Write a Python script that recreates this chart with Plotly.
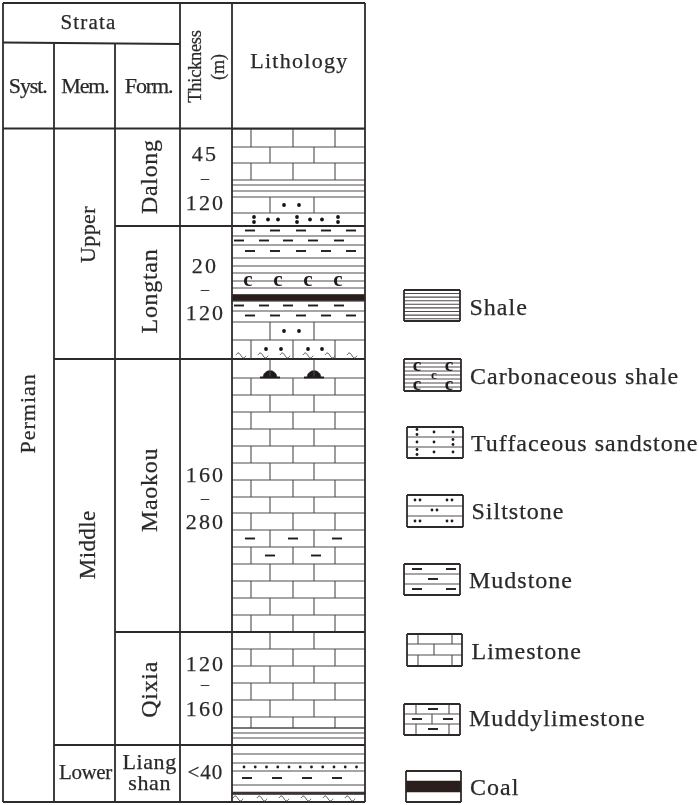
import json
import numpy as np
import plotly.graph_objects as go

# ---------- data (depth = picture row of the column) ----------
formation_names = ["Dalong", "Longtan", "Maokou", "Qixia", "Liang<br>shan"]
formation_tops = [129, 226, 359, 632, 745]
column_bottom = 802
member_names = ["Upper", "Middle", "Lower"]
member_tops = [129, 359, 745]
system_names = ["Permian"]
thickness_min = ["45", "20", "160", "120"]
thickness_max = ["120", "120", "280", "160"]
thickness_single = "<40"

# lithology layers: top depth + kind
layer_tops = [129, 147, 163, 180, 197, 213, 226, 236, 245, 258, 294.5, 301, 311, 322, 340, 359.5,
              378, 395, 412, 429, 446, 463, 480, 497, 513, 530, 547, 564, 581, 598, 615, 632,
              649, 666, 683, 700, 717, 728, 745, 754, 763, 771, 785, 793]
layer_kinds = ["limeA", "limeB", "limeA", "shale", "silt_b", "tuff", "mud0", "mud1", "mud0b", "carb",
               "coal", "mud1", "mud0", "silt_b", "silt_a", "mound",
               "limeA", "limeB", "limeA", "limeB", "limeA", "limeB", "limeA", "limeB", "limeA",
               "muddyB", "muddyA", "limeB", "limeA", "limeB", "limeA", "limeB",
               "limeA", "limeB", "limeA", "limeB", "limeA", "shale2", "plain", "plain", "dots", "mudsparse", "plain", "base"]
shale_depths = [185, 191, 728, 733, 738]
carb_depths = [266, 273, 281, 288]

legend_names = ["Shale", "Carbonaceous shale", "Tuffaceous sandstone", "Siltstone",
                "Mudstone", "Limestone", "Muddylimestone", "Coal"]
header_strata = "Strata"
header_cols = ["Syst.", "Mem.", "Form."]
header_thickness = ["Thickness", "(m)"]
header_lith = "Lithology"

# ---------- layout constants ----------
W, H = 699, 805
X0, X1, X2, X3, X4, X5 = 3, 54, 115, 180, 232, 365
INK = "#2e2a2a"
GREY = "#4e4a4a"
SERIF = "Liberation Serif"

thick = ([], [])
thin = ([], [])
dash = ([], [])
dot = ([], [])
small_dot = ([], [])
wave = ([], [])


def seg(store, x0, y0, x1, y1):
    store[0].extend([x0, x1, None])
    store[1].extend([y0, y1, None])


def h_dash(x, y, length=10):
    seg(dash, x - length / 2, y, x + length / 2, y)


def add_dot(x, y, stacked=False, store=dot):
    if stacked:
        store[0].extend([x, x])
        store[1].extend([y - 2.5, y + 2.5])
    else:
        store[0].append(x)
        store[1].append(y)


def add_wave(x, y):
    t = np.linspace(0, 1, 13)
    wave[0].extend(list(x - 5 + 10 * t) + [None])
    wave[1].extend(list(y - 2.5 * np.sin(t * 2 * np.pi * 0.95 + 0.2)) + [None])


# ---------- table frame ----------
seg(thick, X0, 3, X5, 3)
seg(thick, X0, column_bottom, X5, column_bottom)
for x in (X0, X3, X4, X5):
    seg(thick, x, 3, x, column_bottom)
for x in (X1, X2):
    seg(thick, x, 43, x, column_bottom)
seg(thick, X0, 42.5, X3, 44)
seg(thick, X0, 128.5, X5, 128.5)
for t in formation_tops[1:]:
    seg(thick, X2, t, X5, t)
for t in member_tops[1:]:
    seg(thick, X1, t, X5, t)

# ---------- lithology column ----------
BRICK_A = [251, 293, 335]
BRICK_B = [270, 314]
bottoms = layer_tops[1:] + [column_bottom]
for top, bot, kind in zip(layer_tops, bottoms, layer_kinds):
    seg(thin, X4, top, X5, top)
    if kind.startswith("limeA") or kind in ("muddyA", "silt_a"):
        for x in BRICK_A:
            seg(thin, x, top, x, bot)
    if kind.startswith("limeB") or kind in ("muddyB", "silt_b", "mound"):
        for x in BRICK_B:
            seg(thin, x, top, x, bot)
    if kind == "silt_b":
        add_dot(284, (top + bot) / 2)
        add_dot(299, (top + bot) / 2)
    if kind == "silt_a":
        for x in (266, 281, 308, 322):
            add_dot(x, 349)
        for x in (241, 263, 285, 308, 330, 352):
            add_wave(x, 355.5)
    if kind == "tuff":
        for x, s in ((254, True), (268, False), (278, False), (297, True),
                     (310, False), (322, False), (338, True)):
            add_dot(x, 219.5, s)
    if kind in ("mud0", "mud0b"):
        for x in (250, 275, 301, 326, 351):
            h_dash(x, top + 4.5 if kind == "mud0" else top + 6)
    if kind == "mud1":
        for x in (239, 264, 288, 313, 339):
            h_dash(x, top + 4.5)
    if kind == "muddyB":
        for x in (250, 293, 337):
            h_dash(x, (top + bot) / 2)
    if kind == "muddyA":
        for x in (270, 316):
            h_dash(x, (top + bot) / 2)
    if kind == "dots":
        for x in np.arange(244, 358, 11.25):
            add_dot(float(x), 767, store=small_dot)
    if kind == "mudsparse":
        for x in (247, 277, 307, 337):
            h_dash(x, 778)
    if kind == "base":
        for x in (238, 262, 284, 306, 328, 350):
            add_wave(x, 798.5)
for y in shale_depths + carb_depths:
    seg(thin, X4, y, X5, y)

coal_x, coal_y = [X4, X5, X5, X4, X4, None], [294.5, 294.5, 301, 301, 294.5, None]
coal_x += [X4, X5, X5, X4, X4, None]
coal_y += [792, 792, 794.5, 794.5, 792, None]

# mounds
mound_x, mound_y = [], []
for cx in (270, 314):
    a = np.linspace(np.pi, 0, 15)
    mound_x += list(cx + 7 * np.cos(a)) + [None]
    mound_y += list(377.5 - 7 * np.sin(a)) + [None]
    seg(dash, cx - 10, 377.5, cx + 10, 377.5)

c_x = [248, 278, 308, 338]
c_y = [281] * 4
c2_x, c2_y = [417, 449, 417, 449], [366.5, 366.5, 385.5, 385.5]
c3_x, c3_y = [434], [375.5]


# ---------- legend swatches ----------
def box(x0, y0, x1, y1):
    for a in ((x0, y0, x1, y0), (x1, y0, x1, y1), (x1, y1, x0, y1), (x0, y1, x0, y0)):
        seg(thick, *a)


box(404, 290, 460, 321)
for y in np.arange(293.5, 320, 3.6):
    seg(thin, 404, float(y), 460, float(y))
box(404, 359, 461, 391)
for y in np.arange(363, 390, 4):
    seg(thin, 404, float(y), 461, float(y))
box(407, 427, 463, 458)
seg(thin, 407, 437, 463, 437)
seg(thin, 407, 447, 463, 447)
for y, st in ((432, (True, False, False)), (442, (False, False, True)), (452, (True, False, False))):
    for x, s in zip((417, 434, 453), st):
        add_dot(x, y, s, store=small_dot)
box(407, 495, 463, 527)
seg(thin, 407, 506, 463, 506)
seg(thin, 407, 516, 463, 516)
for y in (500, 521):
    for x in (415, 420, 447, 452):
        add_dot(x, y, store=small_dot)
for x in (432, 437):
    add_dot(x, 510, store=small_dot)
box(404, 564, 460, 595)
seg(thin, 404, 574, 460, 574)
seg(thin, 404, 584, 460, 584)
for x, y in ((417, 569), (451, 569), (433, 579), (417, 589), (451, 589)):
    h_dash(x, y)
box(407, 634, 462, 666)
seg(thin, 407, 644, 462, 644)
seg(thin, 407, 655, 462, 655)
for x in (418, 452):
    seg(thin, x, 634, x, 644)
    seg(thin, x, 655, x, 666)
seg(thin, 434, 644, 434, 655)
box(404, 704, 460, 735)
seg(thin, 404, 714, 460, 714)
seg(thin, 404, 724, 460, 724)
for x in (416, 449):
    seg(thin, x, 704, x, 714)
    seg(thin, x, 724, x, 735)
seg(thin, 432, 714, 432, 724)
for x, y in ((433, 709), (417, 719), (448, 719), (433, 729)):
    h_dash(x, y)
box(406, 771, 461, 802)
coal_x += [406, 461, 461, 406, 406, None]
coal_y += [781, 781, 792, 792, 781, None]

# ---------- traces ----------
fig = go.Figure()
fig.add_trace(go.Scatter(x=coal_x, y=coal_y, mode="lines", fill="toself", fillcolor="#2a1f1d",
                         line=dict(color="#2a1f1d", width=0.5)))
fig.add_trace(go.Scatter(x=mound_x, y=mound_y, mode="lines", fill="toself", fillcolor="#1f1b1b",
                         line=dict(color="#1f1b1b", width=0.5)))
fig.add_trace(go.Scatter(x=thin[0], y=thin[1], mode="lines", line=dict(color=GREY, width=1.1)))
fig.add_trace(go.Scatter(x=thick[0], y=thick[1], mode="lines", line=dict(color=INK, width=1.8)))
fig.add_trace(go.Scatter(x=dash[0], y=dash[1], mode="lines", line=dict(color="#1f1b1b", width=1.9)))
fig.add_trace(go.Scatter(x=wave[0], y=wave[1], mode="lines",
                         line=dict(color=GREY, width=1, shape="spline")))
fig.add_trace(go.Scatter(x=dot[0], y=dot[1], mode="markers",
                         marker=dict(color="#161212", size=3.8, line=dict(width=0))))
fig.add_trace(go.Scatter(x=small_dot[0], y=small_dot[1], mode="markers",
                         marker=dict(color="#1f1b1b", size=2.8, line=dict(width=0))))
fig.add_trace(go.Scatter(x=c_x, y=c_y, mode="text", text=["c"] * len(c_x),
                         textfont=dict(family=SERIF, size=21, color="#1f1b1b", weight="bold"),
                         textposition="middle center"))
fig.add_trace(go.Scatter(x=c2_x, y=c2_y, mode="text", text=["c"] * len(c2_x),
                         textfont=dict(family=SERIF, size=19, color="#1f1b1b", weight="bold"),
                         textposition="middle center"))
fig.add_trace(go.Scatter(x=c3_x, y=c3_y, mode="text", text=["c"],
                         textfont=dict(family=SERIF, size=13, color="#1f1b1b", weight="bold"),
                         textposition="middle center"))

# ---------- text ----------
spacing = {}


def label(text, x, y, size=19, angle=0, anchor="center", ls=None):
    fig.add_annotation(x=x, y=y, text=text, showarrow=False, textangle=angle, xanchor=anchor,
                       yanchor="middle", font=dict(family=SERIF, size=size, color="#2b2828"),
                       align="center", borderpad=0, borderwidth=0)
    if ls is not None:
        spacing[text.replace("<br>", "")] = ls


label(header_strata, 89, 22, 21, ls=1.2)
for t, x in zip(header_cols, (27, 85, 148)):
    label(t, x, 85, 22, ls=-1.1)
label(header_thickness[0], 195, 67, 18.5, -90, ls=-0.3)
label(header_thickness[1], 218, 67, 18, -90)
label(header_lith, 299, 60, 22, ls=1.3)

label(system_names[0], 27, 414, 22, -90, ls=1.0)
for t, x, y, sz in zip(member_names, (87, 87, 85), (234, 545, 772), (22, 23, 21)):
    label(t, x, y, sz, 0 if t == "Lower" else -90, ls=0.4 if t != "Lower" else -0.4)
form_y = (177, 291, 490, 689)
for t, y in zip(formation_names[:4], form_y):
    label(t, 149, y, 24, -90, ls=0.7)
label(formation_names[4], 149, 772, 22, ls=0.6)

thick_rows = ((153, 177, 202), (265, 288, 312), (474, 497, 521), (663, 683, 708))
for lo, hi, (a, b, c) in zip(thickness_min, thickness_max, thick_rows):
    label(lo, 205, a, 22, ls=2.2)
    label("–", 205, b, 16)
    label(hi, 205, c, 22, ls=2.2)
label(thickness_single, 205, 772, 21, ls=1)

legend_x = (469, 470, 471, 471, 469, 471, 469, 470)
legend_y = (307, 376, 443, 511, 580, 651, 718, 787)
LEGEND_LS = 1.0
for t, x, y in zip(legend_names, legend_x, legend_y):
    # letter spacing grows around the text centre, so start half of it further right
    label(t, x + len(t) * LEGEND_LS / 2, y, 24, anchor="left", ls=LEGEND_LS)

fig.update_layout(
    width=W, height=H, margin=dict(l=0, r=0, t=0, b=0), showlegend=False,
    paper_bgcolor="white", plot_bgcolor="white", hovermode=False,
    xaxis=dict(range=[0, W], visible=False, fixedrange=True),
    yaxis=dict(range=[H, 0], visible=False, fixedrange=True),
)

# page margin, letter spacing, tighter leading of the two-line label, soft ink like the scan
script = ("document.body.style.margin='0';document.documentElement.style.overflow='hidden';"
          "var m=" + json.dumps(spacing) + ";"
          "document.querySelectorAll('.annotation-text').forEach(function(t){"
          "var k=t.textContent;if(m[k]!==undefined){t.style.letterSpacing=m[k]+'px';}"
          "t.style.stroke='#2b2828';t.style.strokeWidth='0.25px';"
          "var l=t.querySelectorAll('tspan.line');"
          "if(l.length==2){l[0].setAttribute('dy','0.175em');l[1].setAttribute('dy','1.125em');}});"
          "document.querySelector('.plotly-graph-div').style.filter='blur(0.35px)';")
fig.write_html("out.html", config={"displayModeBar": False}, post_script=script)
